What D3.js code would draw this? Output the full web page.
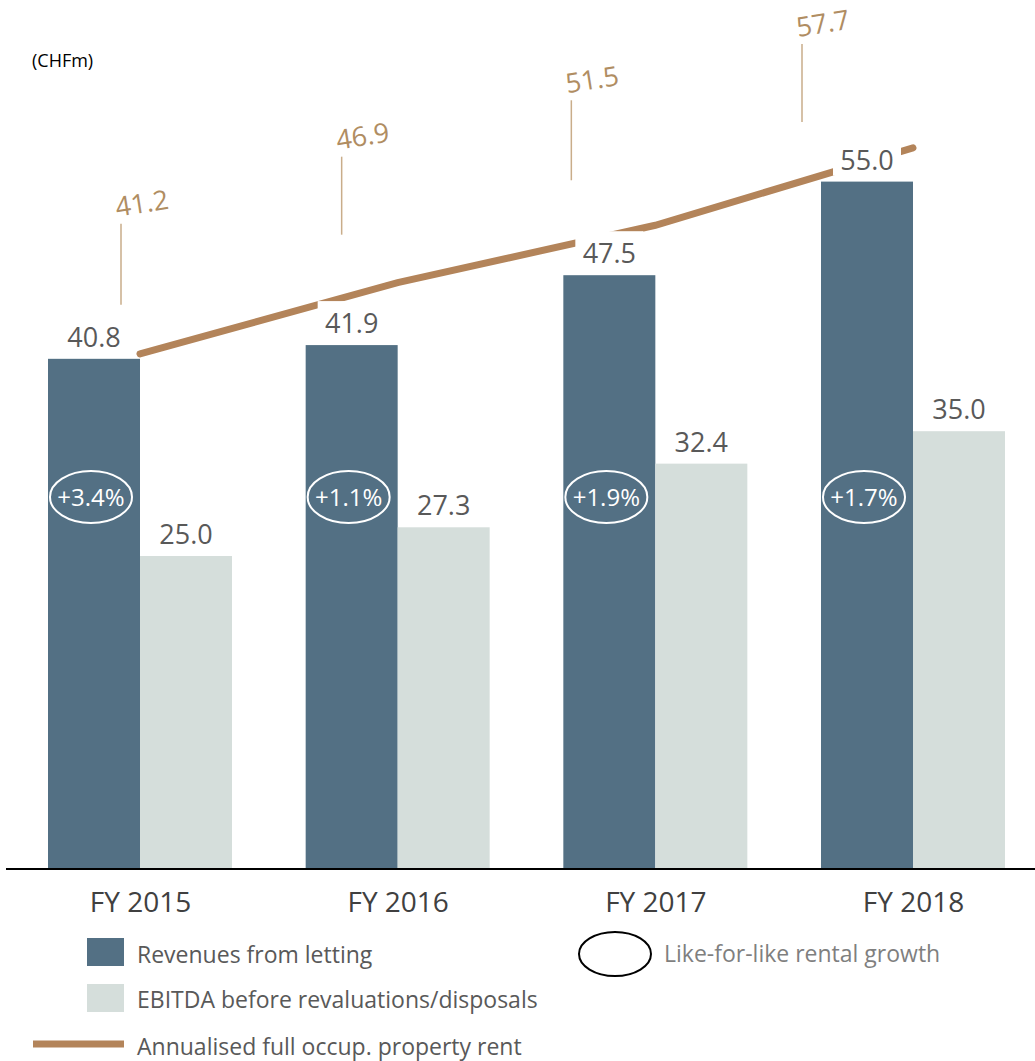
<!DOCTYPE html>
<html>
<head>
<meta charset="utf-8">
<script src="https://cdn.jsdelivr.net/npm/d3@7"></script>
<style>
  html, body { margin: 0; padding: 0; background: #fff; }
  svg { display: block; font-family: "Open Sans", "Noto Sans", sans-serif; }
</style>
</head>
<body>
<script>
// ---- Data ----
const categories = ["FY 2015", "FY 2016", "FY 2017", "FY 2018"];
const revenues = [40.8, 41.9, 47.5, 55.0];
const ebitda = [25.0, 27.3, 32.4, 35.0];
const rent = [41.2, 46.9, 51.5, 57.7];
const lflGrowth = ["+3.4%", "+1.1%", "+1.9%", "+1.7%"];
const seriesNames = ["Revenues from letting", "EBITDA before revaluations/disposals"];
const rentName = "Annualised full occup. property rent";
const lflName = "Like-for-like rental growth";
const unitLabel = "(CHFm)";

// ---- Layout ----
const W = 1035, H = 1061;
const colDark = "#537084", colLight = "#d5dedb", colRent = "#b3845a",
      colLeader = "#c9ad8a", colRentText = "#b08d62", colValue = "#595959";

const svg = d3.select("body").append("svg").attr("width", W).attr("height", H);

const x = d3.scalePoint().domain(categories).range([140, 913]);
const sub = d3.scaleBand().domain(["rev", "ebitda"]).range([-92, 92]).padding(0);
const y = d3.scaleLinear().domain([0, 60]).range([868, 119.2]);

// rent annotation placement (leader offsets relative to the line point)
const annotLayout = [
  {dx: -19, top: 130, bottom: 49},
  {dx: -56, top: 126, bottom: 48},
  {dx: -84, top: 125, bottom: 45},
  {dx: -111, top: 104, bottom: 26}
];

svg.append("text").attr("x", 32).attr("y", 67)
  .attr("font-size", 18).attr("fill", "#000").text(unitLabel);

// rent line (drawn underneath label boxes)
const rentPts = categories.map((c, i) => [x(c), y(rent[i])]);
svg.append("path")
  .attr("d", d3.line()(rentPts))
  .attr("fill", "none").attr("stroke", colRent)
  .attr("stroke-width", 7).attr("stroke-linecap", "round");

// bars
const groups = svg.selectAll("g.grp").data(categories).join("g")
  .attr("class", "grp").attr("transform", c => `translate(${x(c)},0)`);

groups.append("rect")
  .attr("x", sub("rev")).attr("width", sub.bandwidth())
  .attr("y", (c, i) => y(revenues[i]))
  .attr("height", (c, i) => y(0) - y(revenues[i]))
  .attr("fill", colDark);

groups.append("rect")
  .attr("x", sub("ebitda")).attr("width", sub.bandwidth())
  .attr("y", (c, i) => y(ebitda[i]))
  .attr("height", (c, i) => y(0) - y(ebitda[i]))
  .attr("fill", colLight);

// value labels with white boxes
function valueLabel(g, key, vals) {
  const cx = sub(key) + sub.bandwidth() / 2;
  g.append("rect")
    .attr("x", cx - 34).attr("width", 68)
    .attr("y", (c, i) => y(vals[i]) - 12 - 32).attr("height", 38)
    .attr("fill", "#fff");
  g.append("text")
    .attr("x", cx).attr("y", (c, i) => y(vals[i]) - 12)
    .attr("text-anchor", "middle").attr("font-size", 27)
    .attr("fill", colValue)
    .text((c, i) => vals[i].toFixed(1));
}
valueLabel(groups, "rev", revenues);
valueLabel(groups, "ebitda", ebitda);

// like-for-like growth ellipses
const ecx = sub("rev") + sub.bandwidth() / 2 - 3;
groups.append("ellipse")
  .attr("cx", ecx).attr("cy", 497).attr("rx", 41).attr("ry", 26)
  .attr("fill", "none").attr("stroke", "#fff").attr("stroke-width", 2);
groups.append("text")
  .attr("x", ecx).attr("y", 506)
  .attr("text-anchor", "middle").attr("font-size", 24).attr("fill", "#fff")
  .text((c, i) => lflGrowth[i]);

// rent annotations: leader lines + rotated labels
categories.forEach((c, i) => {
  const a = annotLayout[i];
  const lx = x(c) + a.dx, py = y(rent[i]);
  svg.append("line")
    .attr("x1", lx).attr("x2", lx)
    .attr("y1", py - a.top).attr("y2", py - a.bottom)
    .attr("stroke", colLeader).attr("stroke-width", 1.5);
  const tx = lx - 4, ty = py - a.top - 7;
  svg.append("text")
    .attr("transform", `translate(${tx},${ty}) rotate(-9)`)
    .attr("font-size", 27).attr("fill", colRentText)
    .text(rent[i].toFixed(1));
});

// baseline
svg.append("line").attr("x1", 6).attr("x2", W).attr("y1", 869).attr("y2", 869)
  .attr("stroke", "#000").attr("stroke-width", 2);

// category axis
const axis = svg.append("g").attr("transform", "translate(0,869)")
  .call(d3.axisBottom(x).tickSize(0).tickPadding(23));
axis.select(".domain").remove();
axis.selectAll("text").attr("font-size", 28).attr("fill", "#404040")
  .attr("font-family", "'Open Sans', sans-serif");

// legend
const leg = svg.append("g");
leg.append("rect").attr("x", 87).attr("y", 938).attr("width", 37).attr("height", 28).attr("fill", colDark);
leg.append("text").attr("x", 137).attr("y", 963).attr("font-size", 23).attr("fill", colValue).text(seriesNames[0]);
leg.append("rect").attr("x", 87).attr("y", 984).attr("width", 37).attr("height", 28).attr("fill", colLight);
leg.append("text").attr("x", 137).attr("y", 1008).attr("font-size", 23).attr("fill", colValue).text(seriesNames[1]);
leg.append("line").attr("x1", 33).attr("x2", 124).attr("y1", 1044).attr("y2", 1044)
  .attr("stroke", colRent).attr("stroke-width", 7);
leg.append("text").attr("x", 137).attr("y", 1055).attr("font-size", 23).attr("fill", colValue).text(rentName);
leg.append("ellipse").attr("cx", 615).attr("cy", 954).attr("rx", 36).attr("ry", 22)
  .attr("fill", "none").attr("stroke", "#000").attr("stroke-width", 2);
leg.append("text").attr("x", 664).attr("y", 962).attr("font-size", 23).attr("fill", "#7f7f7f").text(lflName);
</script>
</body>
</html>
